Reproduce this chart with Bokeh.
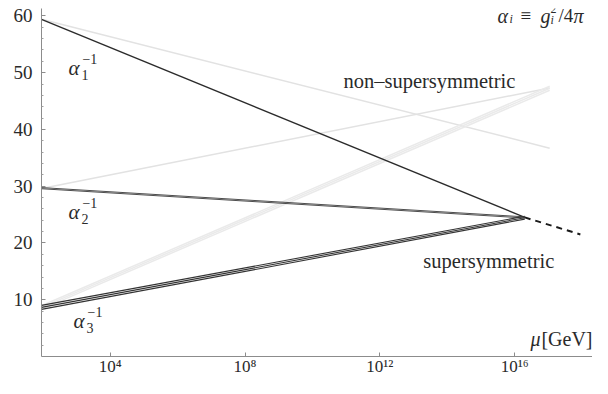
import numpy as np
from bokeh.plotting import figure
from bokeh.models import Range1d, FixedTicker, Label
from bokeh.embed import file_html
from bokeh.resources import INLINE

# ---------------- data ----------------
log_mz = float(np.log10(91.19))          # start scale (M_Z)
log_gut = 16.3                           # SUSY unification scale (log10 GeV)
log_sm_end = 17.04                       # end of non-SUSY curves
log_dash_end = 17.95                     # end of dashed extension

# supersymmetric running (inverse couplings): start at M_Z, end at GUT
susy_a1 = [[59.4, 24.5]]
susy_a2 = [[29.55, 24.4], [29.75, 24.6]]
susy_a3 = [[8.3, 24.2], [8.65, 24.45], [9.0, 24.7]]
dash_vals = [24.5, 21.5]

# non-supersymmetric running
sm_a1 = [[59.4, 36.7]]
sm_a2 = [[29.6, 47.3]]
sm_a3 = [[8.35, 46.9], [8.65, 47.25], [8.95, 47.6]]

x_ticks = [4, 8, 12, 16]
x_tick_labels = ["10⁴", "10⁸", "10¹²", "10¹⁶"]
y_ticks = [10, 20, 30, 40, 50, 60]
y_minor = [v for v in range(2, 60, 2) if v % 10 != 0]

FONT = "Liberation Serif"
TXT = "#2a2a2a"
AXC = "#8c8c8c"

p = figure(width=592, height=378, output_backend="svg", toolbar_location=None,
           x_range=Range1d(log_mz, 18.31), y_range=Range1d(0, 61.3),
           min_border_left=41, min_border_right=0, min_border_top=8, min_border_bottom=20)
p.outline_line_color = None
p.grid.visible = False
p.background_fill_color = "white"

# axes
p.xaxis.ticker = FixedTicker(ticks=x_ticks)
p.xaxis.major_label_overrides = {t: l for t, l in zip(x_ticks, x_tick_labels)}
p.yaxis.ticker = FixedTicker(ticks=y_ticks, minor_ticks=y_minor)
for ax in (p.xaxis[0], p.yaxis[0]):
    ax.axis_line_color = AXC
    ax.major_tick_line_color = AXC
    ax.minor_tick_line_color = "#a0a0a0"
    ax.major_tick_in = 4
    ax.major_tick_out = 0
    ax.minor_tick_in = 2
    ax.minor_tick_out = 0
    ax.major_label_text_font = FONT
    ax.major_label_text_color = TXT
p.yaxis.major_label_text_font_size = "19px"
p.yaxis.major_label_standoff = 9
p.xaxis.minor_tick_line_color = None
p.xaxis.major_label_text_font_size = "17px"
p.xaxis.major_label_standoff = 0

# non-supersymmetric (light)
for v in sm_a1 + sm_a2:
    p.line([log_mz, log_sm_end], v, line_color="#e2e2e2", line_width=1.5)
for v in sm_a3:
    p.line([log_mz, log_sm_end], v, line_color="#eaeaea", line_width=1.5)

# supersymmetric (dark)
for v in susy_a1:
    p.line([log_mz, log_gut], v, line_color="#2b2b2b", line_width=1.4)
for v in susy_a2:
    p.line([log_mz, log_gut], v, line_color="#3a3a3a", line_width=0.9)
for v in susy_a3:
    p.line([log_mz, log_gut], v, line_color="#333333", line_width=1.1)
p.line([log_gut, log_dash_end], dash_vals, line_color="#1a1a1a", line_width=2,
       line_dash="6 5")


def put(x, y, text, size=19, italic=False, dx=0, dy=0, align="left"):
    p.add_layout(Label(x=x, y=y, text=text, x_offset=dx, y_offset=dy,
                       text_font=FONT, text_font_size=f"{size}px",
                       text_font_style="italic" if italic else "normal",
                       text_color=TXT, text_align=align, text_baseline="middle"))


def alpha_inv(x, y, idx):
    put(x, y, "α", 21, True)
    put(x, y, "−1", 14, False, dx=14, dy=9)
    put(x, y, idx, 14, False, dx=13, dy=-7)


alpha_inv(2.76, 50.9, "1")
alpha_inv(2.76, 25.4, "2")
alpha_inv(2.91, 6.3, "3")

put(10.92, 48.6, "non–supersymmetric", 20.5)
put(13.29, 16.9, "supersymmetric", 20.5)
put(18.31, 3.1, "[GeV]", 20, align="right")
put(18.31, 3.1, "μ", 20, True, dx=-52, align="right")

# alpha_i = g_i^2 / 4 pi
fx, fy = 15.49, 60.0
put(fx, fy, "α", 20, True)
put(fx, fy, "i", 12, True, dx=12, dy=-3)
put(fx, fy, "≡", 19, False, dx=23)
put(fx, fy, "g", 20, True, dx=43)
put(fx, fy, "2", 12, False, dx=53, dy=7)
put(fx, fy, "i", 12, True, dx=53, dy=-4)
put(fx, fy, "/4", 19, False, dx=61)
put(fx, fy, "π", 20, True, dx=76)

open("out.html", "w").write(file_html(p, INLINE))
